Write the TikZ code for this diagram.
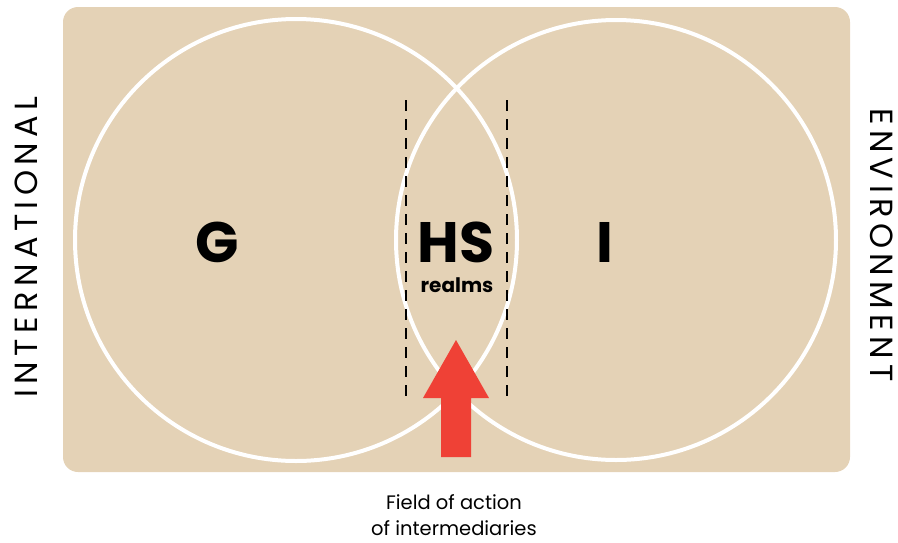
\documentclass[tikz,border=0pt]{standalone}
\usepackage{fontspec}
\setmainfont{Poppins}
\newfontfamily\sidefont[LetterSpace=17]{Poppins}
\definecolor{bgbeige}{HTML}{E4D2B6}
\definecolor{arrowred}{HTML}{EF4136}
\begin{document}
\begin{tikzpicture}[x=1pt,y=-1pt,
  ring/.style={draw=white,line width=4pt},
  guide/.style={draw=black,line width=1.5pt,dash pattern=on 11pt off 8pt},
  bigletter/.style={font=\fontsize{57}{60}\selectfont\bfseries,inner sep=0pt},
  sidelabel/.style={font=\fontsize{32}{34}\sidefont,inner sep=0pt}]
\useasboundingbox (0,0) rectangle (898,542);
\fill[bgbeige,rounded corners=15pt] (63,7) rectangle (850,472);
\node[ring,circle,minimum size=442pt] (left) at (296,240) {};
\node[ring,circle,minimum size=440pt] (right) at (616,240) {};
\coordinate (d1t) at (406,100); \coordinate (d1b) at (406,396);
\coordinate (d2t) at (507,100); \coordinate (d2b) at (507,396);
\draw[guide] (d1t) -- (d1b);
\draw[guide] (d2t) -- (d2b);
\node[bigletter] (g) at (217,242) {G};
\node[bigletter] (hs) at (456,242) {HS};
\node[font=\fontsize{20}{22}\selectfont\bfseries,inner sep=0pt] (realms) at (457,285) {realms};
\node[bigletter] (i) at (605,242) {I};
\fill[arrowred] (441,457) -- (441,398) -- (423,398) -- (456,340) -- (489,398) -- (471,398) -- (471,457) -- cycle;
\node[sidelabel,rotate=90] (intl) at (26,247) {INTERNATIONAL};
\node[sidelabel,rotate=-90] (env) at (882,245) {ENVIRONMENT};
\node[font=\fontsize{19.5}{26}\selectfont,align=center,inner sep=0pt] (field) at (454,515) {Field of action\\of intermediaries};
\end{tikzpicture}
\end{document}
